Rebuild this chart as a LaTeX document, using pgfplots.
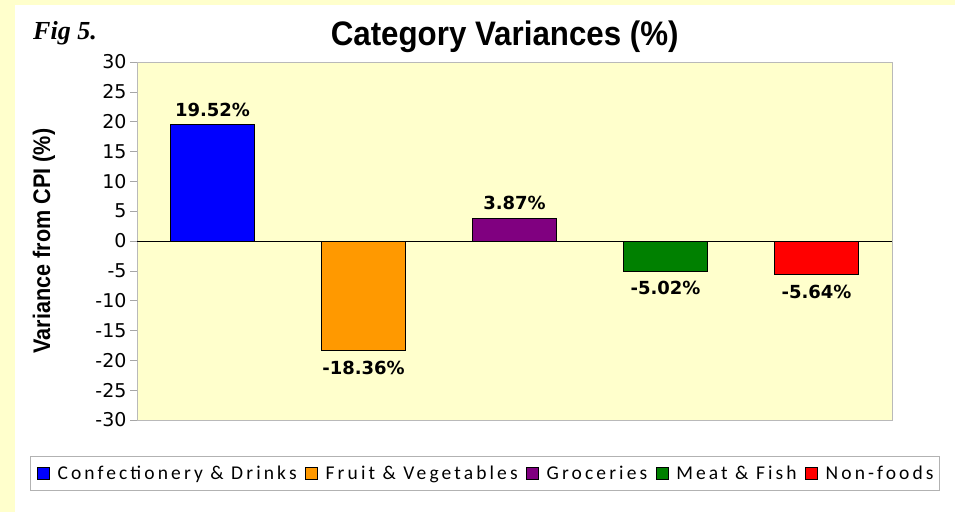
\documentclass[border=0pt]{standalone}
\usepackage{pgfplots}
\pgfplotsset{compat=1.18}
\usepackage{fontspec}
\newfontfamily\tickfont{DejaVu Sans}
\newfontfamily\lblfont{DejaVu Sans}
\newfontfamily\titlefont[FakeStretch=0.92]{Liberation Sans}
\newfontfamily\ylabfont[FakeStretch=0.9]{Liberation Sans}
\newfontfamily\legfont[LetterSpace=16]{Carlito}
\newfontfamily\figfont{Liberation Serif}
\definecolor{bgyellow}{RGB}{255,255,204}
\definecolor{cblue}{RGB}{0,0,255}
\definecolor{corange}{RGB}{255,153,0}
\definecolor{cpurple}{RGB}{128,0,128}
\definecolor{cgreen}{RGB}{0,128,0}
\definecolor{cred}{RGB}{255,0,0}
\pgfplotsset{
  mybar/.style={fill=#1, draw=black, line width=0.6pt, bar shift=0pt, bar width=84pt,
    legend image code/.code={\path[draw=none,fill=none] (-3pt,0pt) -- (17pt,0pt);\draw[fill=#1,draw=black,line width=0.6pt] (0pt,-6pt) rectangle (12pt,6pt);}},
  poslab/.style={nodes near coords={\pgfplotspointmeta\%},
    every node near coord/.append style={anchor=base, yshift=8pt, inner sep=0pt,
      font=\lblfont\bfseries\fontsize{18}{18}\selectfont, text=black}},
  neglab/.style={nodes near coords={\pgfplotspointmeta\%},
    every node near coord/.append style={anchor=base, yshift=-24pt, inner sep=0pt,
      font=\lblfont\bfseries\fontsize{18}{18}\selectfont, text=black}},
}
\begin{document}
\begin{tikzpicture}[x=1pt,y=1pt]
\fill[bgyellow] (0,0) rectangle (955,512);
\fill[white] (15,0) rectangle (955,507);
\node[anchor=base west, font=\figfont\bfseries\itshape\fontsize{26}{26}\selectfont, inner sep=0pt] at (33,472) {Fig 5.};
\begin{axis}[
  at={(137pt,92pt)}, anchor=south west,
  scale only axis, width=755pt, height=358pt,
  xmin=-0.5, xmax=4.5, ymin=-30, ymax=30,
  ybar,
  ytick={-30,-25,...,30}, xtick=\empty,
  ytick pos=left, tick align=outside, major tick length=7pt,
  tick style={draw=gray!70, line width=0.6pt},
  axis line style={draw=gray!55, line width=0.8pt},
  axis background/.style={fill=bgyellow},
  /pgf/number format/assume math mode=true,
  yticklabel style={font=\tickfont\fontsize{19}{19}\selectfont},
  ylabel={Variance from CPI (\%)},
  ylabel style={font=\ylabfont\bfseries\fontsize{24}{24}\selectfont, at={(axis description cs:-0.1232,0.5)}, anchor=center},
  title={Category Variances (\%)},
  title style={font=\titlefont\bfseries\fontsize{34}{34}\selectfont, at={(axis description cs:0.487,1.028)}, anchor=base, inner sep=0pt},
  point meta=explicit symbolic,
  legend columns=5,
  legend cell align=left,
  legend style={at={(axis description cs:0.461,-0.1494)}, anchor=center, draw=gray!60, fill=white,
    font=\legfont\fontsize{19.5}{20}\selectfont, inner xsep=4pt, inner ysep=7.5pt,
    nodes={inner sep=2pt},
    /tikz/every even column/.append style={column sep=4pt},
    /tikz/every odd column/.append style={column sep=1pt}},
]
\addplot[mybar=cblue, poslab] coordinates {(0,19.52) [19.52]};
\addlegendentry{Confectionery \& Drinks}
\addplot[mybar=corange, neglab] coordinates {(1,-18.36) [-18.36]};
\addlegendentry{Fruit \& Vegetables}
\addplot[mybar=cpurple, poslab] coordinates {(2,3.87) [3.87]};
\addlegendentry{Groceries}
\addplot[mybar=cgreen, neglab] coordinates {(3,-5.02) [-5.02]};
\addlegendentry{Meat \& Fish}
\addplot[mybar=cred, neglab] coordinates {(4,-5.64) [-5.64]};
\addlegendentry{Non-foods}
\addplot[sharp plot, draw=black, line width=1pt, forget plot, no marks, nodes near coords={}] coordinates {(-0.5,0) [] (4.5,0) []};
\end{axis}
\end{tikzpicture}
\end{document}
